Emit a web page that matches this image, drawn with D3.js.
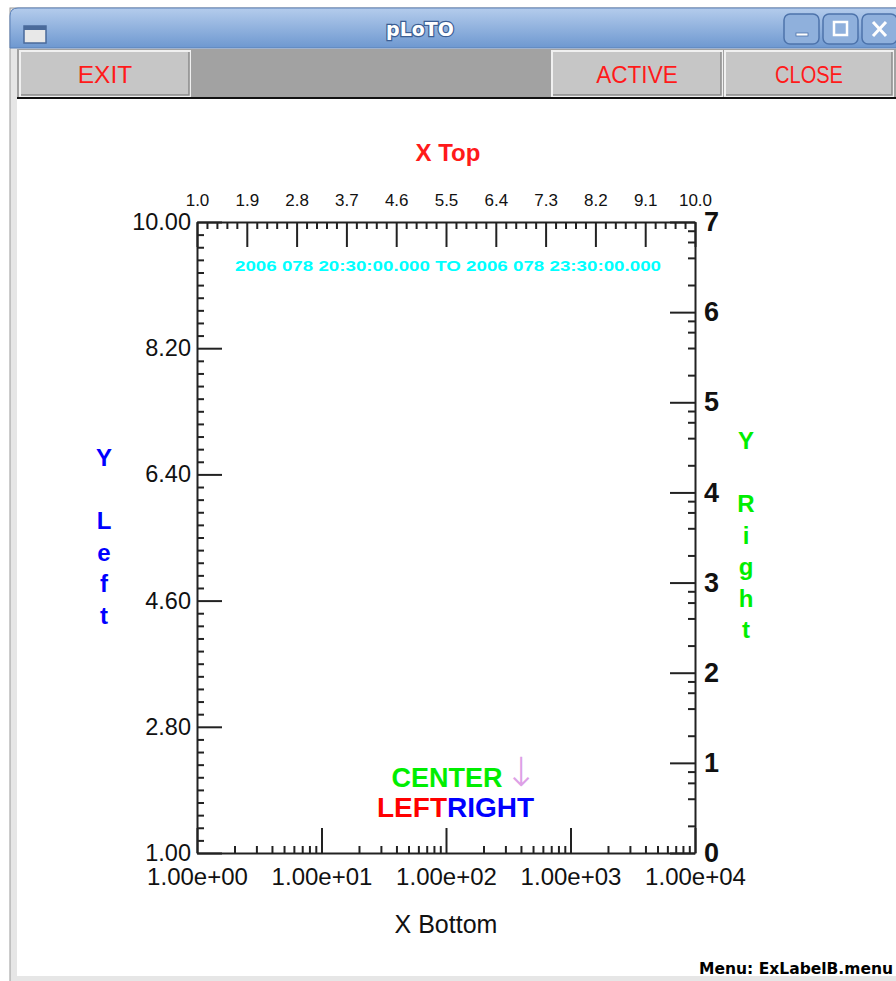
<!DOCTYPE html>
<html>
<head>
<meta charset="utf-8">
<script src="https://cdn.jsdelivr.net/npm/d3@7"></script>
<style>
  body { margin: 0; background: #fff; }
  svg { display: block; }
</style>
</head>
<body>
<div id="chart"></div>
<script>
// axis tick values
const topTicks = [1.0, 1.9, 2.8, 3.7, 4.6, 5.5, 6.4, 7.3, 8.2, 9.1, 10.0];
const leftTicks = [1.0, 2.8, 4.6, 6.4, 8.2, 10.0];
const bottomTicks = [1, 10, 100, 1000, 10000];
const rightTicks = [0, 1, 2, 3, 4, 5, 6, 7];
const yLeftLetters = ["Y", "", "L", "e", "f", "t"];
const yRightLetters = ["Y", "", "R", "i", "g", "h", "t"];
const toolButtons = [
  { label: "EXIT", x0: 20, x1: 190 },
  { label: "ACTIVE", x0: 552, x1: 722 },
  { label: "CLOSE", x0: 725, x1: 893 }
];

const W = 896, H = 981;
const svg = d3.select("#chart").append("svg").attr("width", W).attr("height", H);

// ---- window frame ----
const defs = svg.append("defs");
const grad = defs.append("linearGradient").attr("id", "tb").attr("x1", 0).attr("y1", 0).attr("x2", 0).attr("y2", 1);
grad.append("stop").attr("offset", "0%").attr("stop-color", "#b4ccec");
grad.append("stop").attr("offset", "100%").attr("stop-color", "#6e98d0");

svg.append("rect").attr("x", 10).attr("y", 8).attr("width", 900).attr("height", 975)
  .attr("fill", "#e6e6e6").attr("stroke", "#9a9a9a");
svg.append("path")
  .attr("d", "M10,48 L10,16 Q10,8 18,8 L900,8 L900,48 Z")
  .attr("fill", "url(#tb)").attr("stroke", "#5a80b8");
// window icon
svg.append("rect").attr("x", 24).attr("y", 26).attr("width", 22).attr("height", 17)
  .attr("fill", "#e8e8e8").attr("stroke", "#4a6a9a").attr("stroke-width", 1.5);
svg.append("rect").attr("x", 24).attr("y", 26).attr("width", 22).attr("height", 4).attr("fill", "#4a6a9a");
svg.append("text").attr("x", 420).attr("y", 36).attr("text-anchor", "middle")
  .attr("font-family", "DejaVu Sans").attr("font-weight", "bold").attr("font-size", 19)
  .attr("fill", "#fff").attr("stroke", "#3b5e94").attr("stroke-width", 2.5).attr("paint-order", "stroke")
  .text("pLoTO");
// title buttons
[784, 823, 862].forEach((bx, i) => {
  svg.append("rect").attr("x", bx).attr("y", 14).attr("width", 35).attr("height", 30).attr("rx", 6)
    .attr("fill", "#8fb0dc").attr("stroke", "#4d73ab").attr("stroke-width", 1.5);
  if (i === 0) svg.append("rect").attr("x", bx + 12).attr("y", 33).attr("width", 12).attr("height", 3).attr("fill", "#fff").attr("stroke", "#4d73ab").attr("stroke-width", 0.8);
  if (i === 1) svg.append("rect").attr("x", bx + 11).attr("y", 22).attr("width", 13).attr("height", 13).attr("fill", "none").attr("stroke", "#fff").attr("stroke-width", 2.5);
  if (i === 2) svg.append("path").attr("d", `M${bx + 11},22 L${bx + 24},36 M${bx + 24},22 L${bx + 11},36`).attr("stroke", "#fff").attr("stroke-width", 3);
});

// toolbar
svg.append("rect").attr("x", 17).attr("y", 49).attr("width", 890).attr("height", 48).attr("fill", "#a2a2a2");
svg.append("rect").attr("x", 17).attr("y", 97).attr("width", 890).attr("height", 2).attr("fill", "#111");
toolButtons.forEach(b => {
  svg.append("rect").attr("x", b.x0).attr("y", 51).attr("width", b.x1 - b.x0).attr("height", 45)
    .attr("fill", "#c6c6c6").attr("stroke", "#f0f0f0").attr("stroke-width", 2);
  svg.append("path").attr("d", `M${b.x0 + 1},95 L${b.x1 - 1},95 L${b.x1 - 1},52`)
    .attr("fill", "none").attr("stroke", "#8a8a8a").attr("stroke-width", 1.5);
  svg.append("text").attr("x", (b.x0 + b.x1) / 2).attr("y", 83).attr("text-anchor", "middle")
    .attr("font-family", "Liberation Sans, Arial").attr("font-size", 23).attr("fill", "#ff1a1a")
    .attr("textLength", b.label.length * 13.6).attr("lengthAdjust", "spacingAndGlyphs")
    .text(b.label);
});
// content
svg.append("rect").attr("x", 17).attr("y", 99).attr("width", 890).attr("height", 877).attr("fill", "#fff");

// ---- plot ----
const x0 = 197, x1 = 695, y0 = 853, y1 = 222;
const xTop = d3.scaleLinear().domain([1, 10]).range([x0, x1]);
const xBot = d3.scaleLog().domain([1, 10000]).range([x0, x1]);
const yLeft = d3.scaleLinear().domain([1, 10]).range([y0, y1]);
const yRight = d3.scaleLinear().domain([0, 7]).range([y0, y1]);

const axisColor = "#222";
function styleAxis(g, fontSize, weight, family) {
  g.selectAll("path.domain").attr("stroke", axisColor).attr("stroke-width", 2);
  g.selectAll(".tick line").attr("stroke", axisColor).attr("stroke-width", 2);
  g.selectAll(".tick text").attr("fill", "#111").attr("font-size", fontSize)
    .attr("font-weight", weight).attr("font-family", family);
}

// minor ticks
const topMinor = d3.range(1, 10.001, 0.18).filter(v => !topTicks.some(t => Math.abs(t - v) < 1e-6));
const leftMinor = d3.range(1, 10.001, 0.18).filter(v => !leftTicks.some(t => Math.abs(t - v) < 1e-6));
const botMinor = [];
bottomTicks.slice(0, -1).forEach(d => { for (let k = 2; k <= 9; k++) botMinor.push(d * k); });
const rightMinor = [];
rightTicks.slice(0, -1).forEach(d => [2, 4, 6, 8].forEach(k => rightMinor.push(d + Math.log10(k))));

const minor = svg.append("g");
minor.append("g").attr("transform", `translate(0,${y1})`)
  .call(d3.axisTop(xTop).tickValues(topMinor).tickSize(-7).tickFormat("")).call(g => g.select(".domain").remove());
minor.append("g").attr("transform", `translate(${x0},0)`)
  .call(d3.axisLeft(yLeft).tickValues(leftMinor).tickSize(-7).tickFormat("")).call(g => g.select(".domain").remove());
minor.append("g").attr("transform", `translate(0,${y0})`)
  .call(d3.axisBottom(xBot).tickValues(botMinor).tickSize(-7).tickFormat("")).call(g => g.select(".domain").remove());
minor.append("g").attr("transform", `translate(${x1},0)`)
  .call(d3.axisRight(yRight).tickValues(rightMinor).tickSize(-7).tickFormat("")).call(g => g.select(".domain").remove());
minor.selectAll("line").attr("stroke", axisColor).attr("stroke-width", 2);

const sans = "Liberation Sans, Arial, sans-serif";

svg.append("g").attr("transform", `translate(0,${y1})`)
  .call(d3.axisTop(xTop).tickValues(topTicks).tickSize(-25).tickSizeOuter(0).tickPadding(16).tickFormat(d3.format(".1f")))
  .call(g => styleAxis(g, 17, "normal", sans));

svg.append("g").attr("transform", `translate(${x0},0)`)
  .call(d3.axisLeft(yLeft).tickValues(leftTicks).tickSize(-25).tickSizeOuter(0).tickPadding(6).tickFormat(d3.format(".2f")))
  .call(g => styleAxis(g, 23.5, "normal", sans));

svg.append("g").attr("transform", `translate(0,${y0})`)
  .call(d3.axisBottom(xBot).tickValues(bottomTicks).tickSize(-25).tickSizeOuter(0).tickPadding(15)
    .tickFormat(d => d.toExponential(2).replace(/e([+-])(\d)$/, "e$10$2")))
  .call(g => styleAxis(g, 24, "normal", sans));

svg.append("g").attr("transform", `translate(${x1},0)`)
  .call(d3.axisRight(yRight).tickValues(rightTicks).tickSize(-25).tickSizeOuter(0).tickPadding(9).tickFormat(d3.format("d")))
  .call(g => styleAxis(g, 27, "bold", sans));

// ---- labels ----
svg.append("text").attr("x", 448).attr("y", 161).attr("text-anchor", "middle")
  .attr("font-family", sans).attr("font-weight", "bold").attr("font-size", 24).attr("fill", "#ff1a1a").text("X Top");

svg.append("text").attr("x", 448).attr("y", 271).attr("text-anchor", "middle")
  .attr("font-family", sans).attr("font-weight", "bold").attr("font-size", 15).attr("fill", "#00ffff")
  .attr("textLength", 426).attr("lengthAdjust", "spacingAndGlyphs")
  .text("2006 078 20:30:00.000 TO 2006 078 23:30:00.000");

svg.append("text").attr("x", 446).attr("y", 933).attr("text-anchor", "middle")
  .attr("font-family", sans).attr("font-size", 25).attr("fill", "#111").text("X Bottom");

svg.append("g").selectAll("text").data(yLeftLetters).join("text")
  .attr("x", 104).attr("y", (d, i) => 466 + i * 31.5).attr("text-anchor", "middle")
  .attr("font-family", sans).attr("font-weight", "bold").attr("font-size", 24).attr("fill", "#0000ff").text(d => d);

svg.append("g").selectAll("text").data(yRightLetters).join("text")
  .attr("x", 746).attr("y", (d, i) => 449 + i * 31.5).attr("text-anchor", "middle")
  .attr("font-family", sans).attr("font-weight", "bold").attr("font-size", 24).attr("fill", "#00ee00").text(d => d);

svg.append("text").attr("x", 447).attr("y", 787).attr("text-anchor", "middle")
  .attr("font-family", sans).attr("font-weight", "bold").attr("font-size", 27).attr("fill", "#00ee00").text("CENTER");
svg.append("text").attr("x", 447).attr("y", 817).attr("text-anchor", "end")
  .attr("font-family", sans).attr("font-weight", "bold").attr("font-size", 28).attr("fill", "#ff0000").text("LEFT");
svg.append("text").attr("x", 447).attr("y", 817).attr("text-anchor", "start")
  .attr("font-family", sans).attr("font-weight", "bold").attr("font-size", 28).attr("fill", "#0000ff").text("RIGHT");
svg.append("text").attr("x", 521).attr("y", 786).attr("text-anchor", "middle")
  .attr("font-family", "DejaVu Sans").attr("font-weight", "200").attr("font-size", 40).attr("fill", "#dda0e6").text("↓");

svg.append("text").attr("x", 893).attr("y", 974).attr("text-anchor", "end")
  .attr("font-family", "DejaVu Sans").attr("font-weight", "bold").attr("font-size", 15.5).attr("fill", "#000")
  .text("Menu: ExLabelB.menu");
</script>
</body>
</html>
